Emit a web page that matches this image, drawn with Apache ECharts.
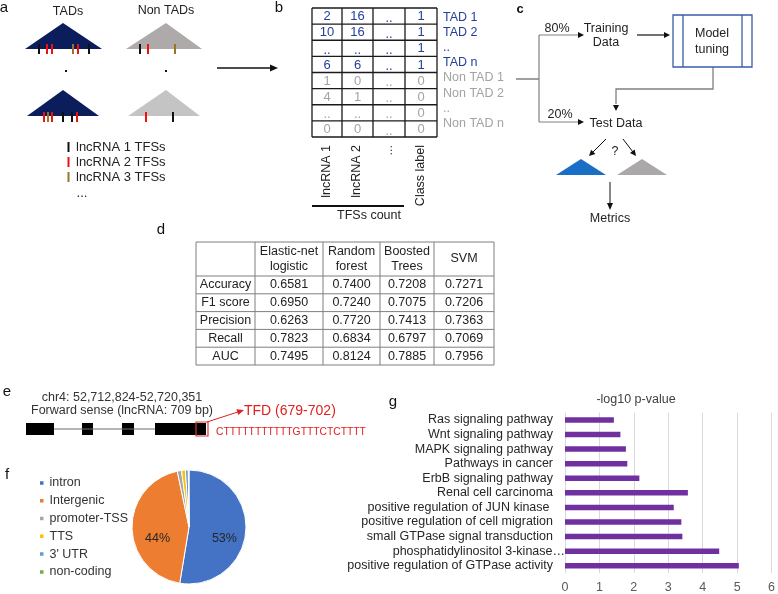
<!DOCTYPE html>
<html><head><meta charset="utf-8">
<script src="https://cdn.jsdelivr.net/npm/echarts@6/dist/echarts.min.js"></script>
<style>html,body{margin:0;padding:0;background:#fff}#c{width:778px;height:594px}</style>
</head><body><div id="c"></div>
<script>
const FONT = '"Liberation Sans", Arial, Helvetica, sans-serif';

// ---------- Panel b : TFS count matrix ----------
const tfsColumnLabels = ['lncRNA 1', 'lncRNA 2', '...', 'Class label'];
const tfsRowNames = ['TAD 1', 'TAD 2', '..', 'TAD n', 'Non TAD 1', 'Non TAD 2', '..', 'Non TAD n'];
const tfsLnc1 = ['2', '10', '..', '6', '1', '4', '..', '0'];
const tfsLnc2 = ['16', '16', '..', '6', '0', '1', '..', '0'];
const tfsMore = ['..', '..', '..', '..', '..', '..', '..', '..'];
const tfsClass = ['1', '1', '1', '1', '0', '0', '0', '0'];

// ---------- Panel d : model metrics ----------
const metricNames = ['Accuracy', 'F1 score', 'Precision', 'Recall', 'AUC'];
const modelNames = ['Elastic-net\nlogistic', 'Random\nforest', 'Boosted\nTrees', 'SVM'];
const elasticNet = [0.6581, 0.6950, 0.6263, 0.7823, 0.7495];
const randomForest = [0.7400, 0.7240, 0.7720, 0.6834, 0.8124];
const boostedTrees = [0.7208, 0.7075, 0.7413, 0.6797, 0.7885];
const svmScores = [0.7271, 0.7206, 0.7363, 0.7069, 0.7956];

// ---------- Panel f : genomic regions ----------
const regionNames = ['intron', 'Intergenic', 'promoter-TSS', 'TTS', "3' UTR", 'non-coding'];
const regionShares = [52.6, 44.1, 1.2, 1.1, 0.8, 0.2];

// ---------- Panel g : enrichment ----------
const pathways = ['Ras signaling pathway', 'Wnt signaling pathway', 'MAPK signaling pathway',
  'Pathways in cancer', 'ErbB signaling pathway', 'Renal cell carcinoma',
  'positive regulation of JUN kinase ', 'positive regulation of cell migration',
  'small GTPase signal transduction', 'phosphatidylinositol 3-kinase…',
  'positive regulation of GTPase activity'];
const negLog10P = [1.42, 1.61, 1.77, 1.81, 2.16, 3.57, 3.16, 3.38, 3.41, 4.48, 5.05];
const xTickMax = 6;

// ---------- styles ----------
const regionColors = ['#4472c4', '#ed7d31', '#a5a5a5', '#ffc000', '#5b9bd5', '#70ad47'];
const tickColors = { k: '#111111', r: '#ee1111', o: '#9a7424' };
const BLUE_T = '#24409a', GRAY_T = '#a3a3a3';

// Illustration marks in panel a (TFS sites on TAD triangles)
const tadTopSites = [[39, 'k'], [47, 'r'], [52, 'r'], [73, 'o'], [78, 'r'], [89, 'k']];
const nonTopSites = [[140, 'k'], [148, 'r'], [175, 'o']];
const tadBotSites = [[44, 'r'], [48, 'o'], [52, 'r'], [63, 'k'], [72, 'k'], [77, 'r']];
const nonBotSites = [[146, 'r'], [173, 'k']];

const G = [];
function txt(x, y, s, size, color, align, valign, extra) {
  const el = {
    type: 'text', x: x, y: y, silent: true, z: 20,
    style: {
      text: s, x: 0, y: 0, fontSize: size, fontFamily: FONT, fill: color || '#222',
      align: align || 'center', verticalAlign: valign || 'middle',
      textAlign: align || 'center', textVerticalAlign: valign || 'middle'
    }
  };
  if (extra) {
    if (extra.rotation) el.rotation = extra.rotation;
    if (extra.lineHeight) el.style.lineHeight = extra.lineHeight;
    if (extra.fontWeight) el.style.fontWeight = extra.fontWeight;
  }
  G.push(el);
}
function line(x1, y1, x2, y2, color, w) {
  G.push({ type: 'line', silent: true, z: 15, shape: { x1, y1, x2, y2 }, style: { stroke: color, lineWidth: w || 1 } });
}
function poly(pts, color, z) {
  G.push({ type: 'polygon', silent: true, z: z || 10, shape: { points: pts }, style: { fill: color } });
}
function polyline(pts, color, w) {
  G.push({ type: 'polyline', silent: true, z: 15, shape: { points: pts }, style: { stroke: color, lineWidth: w || 1, fill: null } });
}
function rect(x, y, w, h, fill, stroke, lw) {
  G.push({ type: 'rect', silent: true, z: stroke ? 16 : 10, shape: { x, y, width: w, height: h },
    style: { fill: fill || 'none', stroke: stroke || null, lineWidth: lw || 1 } });
}
function head(x2, y2, ang, color, hl, hw) {
  hl = hl || 6; hw = hw || 3;
  const c = Math.cos(ang), s = Math.sin(ang);
  const bx = x2 - hl * c, by = y2 - hl * s;
  poly([[x2, y2], [bx - hw * s, by + hw * c], [bx + hw * s, by - hw * c]], color, 17);
}
function arrow(x1, y1, x2, y2, color, w, headColor, hl, hw) {
  const ang = Math.atan2(y2 - y1, x2 - x1);
  hl = hl || 6;
  line(x1, y1, x2 - hl * 0.8 * Math.cos(ang), y2 - hl * 0.8 * Math.sin(ang), color, w);
  head(x2, y2, ang, headColor || color, hl, hw);
}

// ---------- panel letters ----------
txt(4, 8, 'a', 15, '#111');
txt(279, 8, 'b', 15, '#111');
txt(520, 9, 'c', 13, '#111', 'center', 'middle', { fontWeight: 'bold' });
txt(161, 230, 'd', 15, '#111');
txt(7, 392, 'e', 15, '#111');
txt(7, 475, 'f', 15, '#111');
txt(393, 402, 'g', 15, '#111');

// ---------- panel a ----------
txt(68, 12, 'TADs', 12.5, '#222');
txt(166, 11, 'Non TADs', 12.5, '#222');
poly([[63, 23], [25, 49], [102, 49]], '#0c1d5b');
poly([[166, 23], [126, 49], [202, 49]], '#aeaaaa');
poly([[63, 90], [27, 116], [99, 116]], '#0c1d5b');
poly([[166, 90], [128, 116], [200, 116]], '#c4c4c4');
function sites(list, y0, y1) { list.forEach(s => line(s[0], y0, s[0], y1, tickColors[s[1]], 2)); }
sites(tadTopSites, 44, 54); sites(nonTopSites, 44, 54);
sites(tadBotSites, 112, 122); sites(nonBotSites, 112, 122);
rect(65, 70, 2, 2, '#111'); rect(165, 70, 2, 2, '#111');
[['k', 'lncRNA 1 TFSs', 147], ['r', 'lncRNA 2 TFSs', 162], ['o', 'lncRNA 3 TFSs', 177]].forEach(d => {
  line(68.5, d[2] - 5, 68.5, d[2] + 5, tickColors[d[0]], 2);
  txt(76, d[2], d[1], 13, '#222', 'left');
});
txt(82, 193, '...', 13, '#222', 'center');
arrow(217, 68, 278, 68, '#111', 1.5, '#111', 8, 3.5);

// ---------- panel b ----------
const bCols = [312, 342, 373, 405, 437];
const bTop = 8, bBot = 137, bRowH = (bBot - bTop) / 8;
const bColumns = [tfsLnc1, tfsLnc2, tfsMore, tfsClass];
for (let r = 0; r < 8; r++) {
  const cy = bTop + bRowH * (r + 0.5);
  const col = r < 4 ? BLUE_T : GRAY_T;
  bColumns.forEach((arr, c) => {
    const v = arr[r];
    txt((bCols[c] + bCols[c + 1]) / 2, v === '..' ? cy + 2 : cy + 0.5, v, 13, col);
  });
  txt(443, 17.3 + r * 15.15, tfsRowNames[r], 12.5, col, 'left');
}
for (let r = 0; r <= 8; r++) line(bCols[0], bTop + r * bRowH, bCols[4], bTop + r * bRowH, '#1a1a1a', 1.3);
bCols.forEach(x => line(x, bTop, x, bBot, '#1a1a1a', 1.3));
tfsColumnLabels.forEach((s, c) => {
  txt((bCols[c] + bCols[c + 1]) / 2 - 0.5, 145, s, 12.5, '#222', 'right', 'middle', { rotation: Math.PI / 2 });
});
line(312, 206, 404, 206, '#111', 2);
txt(369, 216, 'TFSs count', 12.5, '#222');

// ---------- panel c ----------
const CON = '#808080';
line(516, 79, 539, 79, CON, 1.5);
line(539, 35, 539, 122, CON, 1.2);
arrow(539, 35, 584, 35, CON, 1.2, '#111', 6, 3);
arrow(539, 122, 584, 122, CON, 1.2, '#111', 6, 3);
txt(557, 29, '80%', 12.5, '#222');
txt(560, 115, '20%', 12.5, '#222');
txt(606, 29, 'Training', 12.5, '#222');
txt(606, 43, 'Data', 12.5, '#222');
arrow(637, 35, 670, 35, '#111', 1.2, '#111', 6, 3);
rect(673, 15, 79, 52, 'none', '#3a5ca8', 1.3);
line(683, 15, 683, 67, '#3a5ca8', 1.3);
line(742, 15, 742, 67, '#3a5ca8', 1.3);
txt(712, 34, 'Model', 12.5, '#222');
txt(712, 50, 'tuning', 12.5, '#222');
polyline([[713, 67], [713, 89], [616, 89], [616, 104]], CON, 1.3);
head(616, 111, Math.PI / 2, '#111', 6, 3);
txt(616, 124, 'Test Data', 12.5, '#222');
arrow(606, 139, 589, 156, '#111', 1, '#111', 6, 3);
arrow(623, 139, 636, 156, '#111', 1, '#111', 6, 3);
txt(615, 152, '?', 12.5, '#222');
poly([[581, 159], [556, 175], [606, 175]], '#1a6ec6');
poly([[642, 159], [617, 175], [667, 175]], '#aaa8a8');
arrow(610, 182, 610, 210, '#111', 1, '#111', 7, 3);
txt(610, 219, 'Metrics', 12.5, '#222');

// ---------- panel d : table ----------
const dCols = [196, 255, 323, 380, 434, 494];
const dTop = 242, dHeadBot = 276, dBot = 365, dRowH = (dBot - dHeadBot) / metricNames.length;
const dSeries = [elasticNet, randomForest, boostedTrees, svmScores];
modelNames.forEach((m, c) => txt((dCols[c + 1] + dCols[c + 2]) / 2, (dTop + dHeadBot) / 2, m, 12.5, '#222', 'center', 'middle', { lineHeight: 15 }));
metricNames.forEach((m, r) => {
  const cy = dHeadBot + dRowH * (r + 0.5);
  txt((dCols[0] + dCols[1]) / 2, cy, m, 12.5, '#222');
  dSeries.forEach((arr, c) => txt((dCols[c + 1] + dCols[c + 2]) / 2, cy, arr[r].toFixed(4), 12.5, '#222'));
});
line(dCols[0], dTop, dCols[5], dTop, '#7f7f7f', 1);
line(dCols[0], dHeadBot, dCols[5], dHeadBot, '#7f7f7f', 1);
for (let r = 1; r <= metricNames.length; r++) line(dCols[0], dHeadBot + r * dRowH, dCols[5], dHeadBot + r * dRowH, '#7f7f7f', 1);
dCols.forEach(x => line(x, dTop, x, dBot, '#7f7f7f', 1));

// ---------- panel e ----------
txt(122, 398, 'chr4: 52,712,824-52,720,351', 12.5, '#333');
txt(122, 411, 'Forward sense (lncRNA: 709 bp)', 12.5, '#333');
line(54, 429, 155, 429, '#6d6d6d', 1);
[[26, 54], [82, 93], [122, 134], [155, 206]].forEach(b => rect(b[0], 423, b[1] - b[0], 12, '#000'));
rect(196, 422, 12, 14, 'none', '#e03030', 1.2);
arrow(207, 422, 244, 410, '#e02020', 1, '#e02020', 7, 3);
txt(244, 411, 'TFD (679-702)', 14, '#e02020', 'left');
txt(216, 432, 'CTTTTTTTTTTTGTTTCTCTTTT', 10.3, '#e02020', 'left');

// ---------- panel g title ----------
txt(636, 400, '-log10 p-value', 12.5, '#404040');

const pctLabel = p => '\n' + Math.round(p.value) + '%';

const option = {
  animation: false,
  backgroundColor: '#ffffff',
  textStyle: { fontFamily: FONT },
  graphic: { elements: G },
  legend: {
    orient: 'vertical', left: 33, top: 469, padding: 5,
    itemWidth: 5.5, itemHeight: 5.5, icon: 'rect', itemGap: 0, selectedMode: false,
    textStyle: { fontSize: 12.5, color: '#333', lineHeight: 17.8, fontFamily: FONT },
    data: regionNames
  },
  grid: { left: 565, right: 3, top: 412.6, bottom: 19.6, containLabel: false },
  xAxis: {
    type: 'value', min: 0, max: xTickMax, interval: 1,
    axisLine: { show: false }, axisTick: { show: false },
    splitLine: { show: true, lineStyle: { color: '#d9d9d9', width: 1 } },
    axisLabel: { fontSize: 12.5, color: '#595959', margin: 8, fontFamily: FONT }
  },
  yAxis: {
    type: 'category', inverse: true, data: pathways,
    axisLine: { show: false }, axisTick: { show: false },
    axisLabel: {
      interval: 0, margin: 0, fontSize: 12.5, color: '#262626', fontFamily: FONT,
      formatter: v => v.endsWith('…') ? v : '{p|' + v + '}',
      rich: { p: { padding: [0, 12, 0, 0], fontSize: 12.5, color: '#262626', fontFamily: FONT } }
    }
  },
  series: [
    {
      type: 'bar', data: negLog10P, barWidth: 5.5, silent: true,
      itemStyle: { color: '#7030a0' }
    },
    {
      type: 'pie', center: [189, 527], radius: 57, startAngle: 90, clockwise: true,
      silent: true, avoidLabelOverlap: false, minShowLabelAngle: 0,
      itemStyle: { borderColor: '#ffffff', borderWidth: 1 },
      label: { show: false },
      labelLine: { show: false },
      data: regionNames.map((n, i) => {
        const d = { name: n, value: regionShares[i], itemStyle: { color: regionColors[i] } };
        if (i === 0) d.label = { show: true, position: 'inside', formatter: pctLabel, fontSize: 12.5,
          color: '#262626', fontFamily: FONT, lineHeight: 18, padding: [0, 0, 0, 8] };
        if (i === 1) d.label = { show: true, position: 'inside', formatter: pctLabel, fontSize: 12.5,
          color: '#262626', fontFamily: FONT, lineHeight: 22 };
        return d;
      })
    }
  ]
};
const chart = echarts.init(document.getElementById('c'), null, { renderer: 'canvas', width: 778, height: 594 });
chart.setOption(option);
</script>
</body></html>
